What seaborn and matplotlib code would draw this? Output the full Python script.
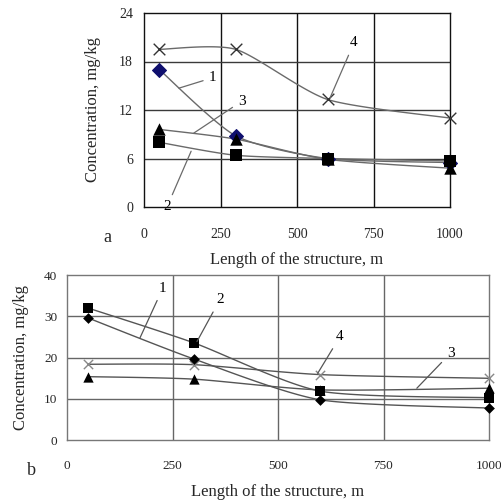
import numpy as np
import pandas as pd
import matplotlib
matplotlib.use("Agg")
import matplotlib.pyplot as plt
import seaborn as sns

sns.set_theme(style="white")
plt.rcParams["font.family"] = ["Liberation Serif", "DejaVu Serif"]

# Measurement positions along the structure, m
length_m = [50, 300, 600, 1000]

# Panel a: concentrations, mg/kg
a_series1 = [17.0, 8.8, 6.0, 5.5]
a_series2 = [8.0, 6.4, 6.0, 5.7]
a_series3 = [9.6, 8.4, 5.9, 4.8]
a_series4 = [19.5, 19.5, 13.3, 11.0]

# Panel b: concentrations, mg/kg
b_series1 = [29.6, 19.7, 9.8, 7.8]
b_series2 = [32.0, 23.6, 11.9, 10.3]
b_series3 = [15.4, 14.8, 12.2, 12.6]
b_series4 = [18.4, 18.3, 15.9, 15.0]

x_ticks = [0, 250, 500, 750, 1000]
a_y_ticks = [0, 6, 12, 18, 24]
b_y_ticks = [0, 10, 20, 30, 40]


def smooth(xs, ys, n=40, tension=0.35):
    """Cardinal spline through the points (like a spreadsheet smoothed line)."""
    xs = np.asarray(xs, float)
    ys = np.asarray(ys, float)
    px = np.concatenate([[xs[0]], xs, [xs[-1]]])
    py = np.concatenate([[ys[0]], ys, [ys[-1]]])
    ox, oy = [], []
    for i in range(1, len(px) - 2):
        t = np.linspace(0, 1, n, endpoint=(i == len(px) - 3))
        h00 = 2 * t**3 - 3 * t**2 + 1
        h10 = t**3 - 2 * t**2 + t
        h01 = -2 * t**3 + 3 * t**2
        h11 = t**3 - t**2
        mx0 = tension * (px[i + 1] - px[i - 1])
        mx1 = tension * (px[i + 2] - px[i])
        my0 = tension * (py[i + 1] - py[i - 1])
        my1 = tension * (py[i + 2] - py[i])
        ox.append(h00 * px[i] + h10 * mx0 + h01 * px[i + 1] + h11 * mx1)
        oy.append(h00 * py[i] + h10 * my0 + h01 * py[i + 1] + h11 * my1)
    return np.concatenate(ox), np.concatenate(oy)


def draw_series(ax, ys, marker, mcolor, msize, lcolor, lw=1.0, mew=0.0, z=5):
    sx, sy = smooth(length_m, ys)
    sns.lineplot(x=sx, y=sy, ax=ax, sort=False, estimator=None,
                 color=lcolor, linewidth=lw, zorder=3)
    df = pd.DataFrame({"x": length_m, "y": ys})
    if marker == "x":
        ax.scatter(df["x"], df["y"], marker="x", s=msize, c=mcolor,
                   linewidths=1.0, zorder=z, clip_on=False)
    else:
        sns.scatterplot(data=df, x="x", y="y", ax=ax, marker=marker,
                        s=msize, color=mcolor, edgecolor=mcolor,
                        linewidth=mew, zorder=z, clip_on=False)


def label(ax, text, xy_from, xy_text, lcolor, fs=11):
    ax.annotate(text, xy=xy_from, xytext=xy_text, fontsize=fs,
                ha="center", va="center", color="black",
                arrowprops=dict(arrowstyle="-", color=lcolor, lw=0.9,
                                shrinkA=2, shrinkB=0), zorder=6)


fig = plt.figure(figsize=(5.01, 5.01), dpi=100)
fig.patch.set_facecolor("white")

# ---------- panel a ----------
ax1 = fig.add_axes([144 / 501, 1 - 207 / 501, 306 / 501, 194 / 501])
line_a = "#6a6a6a"
draw_series(ax1, a_series4, "x", "#333333", 70, line_a, z=5)
draw_series(ax1, a_series1, "D", "#0f0f6e", 50, line_a, mew=0.8, z=4)
draw_series(ax1, a_series3, "^", "black", 80, line_a, z=5)
draw_series(ax1, a_series2, "s", "black", 80, line_a, z=6)

ax1.set_xlim(0, 1000)
ax1.set_ylim(0, 24)
ax1.set_xticks(x_ticks)
ax1.set_yticks(a_y_ticks)
ax1.set_xticklabels([str(v) for v in x_ticks], fontsize=10)
ax1.set_yticklabels([str(v) for v in a_y_ticks], fontsize=10)
ax1.tick_params(axis="x", length=0, pad=15)
ax1.tick_params(axis="y", length=0, pad=8)
for v in x_ticks[1:-1]:
    ax1.axvline(v, color="#111111", lw=1.0, zorder=1)
for v in a_y_ticks[1:-1]:
    ax1.axhline(v, color="#3a3a3a", lw=1.0, zorder=1)
for s in ax1.spines.values():
    s.set_color("#111111")
    s.set_linewidth(1.0)
ax1.set_xlabel("Length of the structure, m", fontsize=12, labelpad=8)
ax1.set_ylabel("Concentration, mg/kg", fontsize=12, labelpad=13)
ax1.text(-0.12, -0.155, "a", transform=ax1.transAxes, fontsize=13,
         ha="center", va="center")

label(ax1, "1", (114, 14.7), (225, 16.0), line_a)
label(ax1, "3", (163, 9.15), (320, 13.1), line_a)
label(ax1, "2", (154, 6.9), (75, 0.0), line_a)
label(ax1, "4", (608, 13.5), (686, 20.3), line_a)

# ---------- panel b ----------
ax2 = fig.add_axes([67 / 501, 1 - 440.3 / 501, 422 / 501, 165.3 / 501])
line_b = "#555555"
draw_series(ax2, b_series4, "x", "#888888", 45, line_b)
draw_series(ax2, b_series3, "^", "black", 55, line_b)
draw_series(ax2, b_series1, "D", "black", 30, line_b)
draw_series(ax2, b_series2, "s", "black", 60, line_b)

ax2.set_xlim(0, 1000)
ax2.set_ylim(0, 40)
ax2.set_xticks(x_ticks)
ax2.set_yticks(b_y_ticks)
ax2.set_xticklabels([str(v) for v in x_ticks], fontsize=9.5)
ax2.set_yticklabels([str(v) for v in b_y_ticks], fontsize=9.5)
ax2.tick_params(axis="x", length=0, pad=14)
ax2.tick_params(axis="y", length=0, pad=7)
for v in x_ticks[1:-1]:
    ax2.axvline(v, color="#666666", lw=1.0, zorder=1)
for v in b_y_ticks[1:-1]:
    ax2.axhline(v, color="#666666", lw=1.0, zorder=1)
for s in ax2.spines.values():
    s.set_color("#777777")
    s.set_linewidth(1.0)
ax2.set_xlabel("Length of the structure, m", fontsize=12, labelpad=9)
ax2.set_ylabel("Concentration, mg/kg", fontsize=12, labelpad=11)
ax2.text(-0.085, -0.185, "b", transform=ax2.transAxes, fontsize=13,
         ha="center", va="center")

label(ax2, "1", (173, 24.8), (227, 36.8), line_b)
label(ax2, "2", (308, 23.9), (362, 34.0), line_b)
label(ax2, "4", (594, 16.2), (647, 25.1), line_b)
label(ax2, "3", (829, 12.6), (909, 21.1), line_b)

fig.savefig("out.png", dpi=100, facecolor="white")
